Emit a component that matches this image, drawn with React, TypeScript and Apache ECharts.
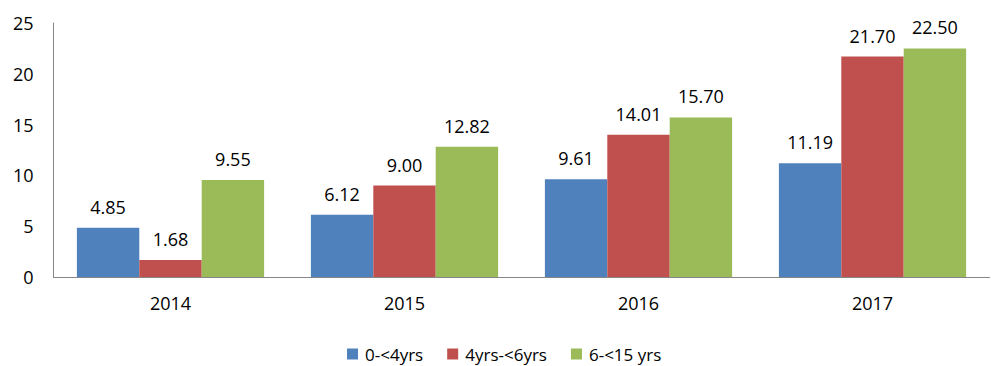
import React, { useEffect, useRef } from "react";
import * as echarts from "echarts";

const categories = ["2014", "2015", "2016", "2017"];
const seriesNames = ["0-<4yrs", "4yrs-<6yrs", "6-<15 yrs"];
const s0 = [4.85, 6.12, 9.61, 11.19];
const s1 = [1.68, 9.0, 14.01, 21.7];
const s2 = [9.55, 12.82, 15.7, 22.5];
const colors = ["#4F81BD", "#C0504D", "#9BBB59"];

export default function App() {
  const ref = useRef<HTMLDivElement>(null);
  useEffect(() => {
    if (!ref.current) return;
    const chart = echarts.init(ref.current, null, { renderer: "svg" });
    const font = "Open Sans";
    const data = [s0, s1, s2];
    chart.setOption({
      animation: false,
      textStyle: { fontFamily: font },
      legend: {
        top: 332,
        left: 334,
        itemWidth: 11,
        itemHeight: 11,
        itemGap: 24,
        icon: "rect",
        textStyle: { fontSize: 17, lineHeight: 18, color: "#000", fontFamily: font, padding: [0, 0, 0, 2] },
        data: seriesNames,
      },
      grid: { left: 45.5, right: 10.5, top: 15, bottom: 89, containLabel: false },
      xAxis: {
        type: "category",
        data: categories,
        axisLine: { lineStyle: { color: "#868686" } },
        axisTick: { show: false },
        axisLabel: { fontSize: 18, color: "#000", margin: 17, fontFamily: font },
      },
      yAxis: {
        type: "value",
        min: 0,
        max: 25,
        interval: 5,
        splitLine: { show: false },
        axisLine: { show: true, lineStyle: { color: "#868686" } },
        axisTick: { show: false },
        axisLabel: { fontSize: 18, color: "#000", margin: 20, fontFamily: font },
      },
      series: data.map((d, i) => ({
        name: seriesNames[i],
        type: "bar",
        data: d,
        barGap: "0%",
        barCategoryGap: "20%",
        itemStyle: { color: colors[i] },
        label: {
          show: true,
          position: "top",
          distance: 12,
          fontSize: 18,
          color: "#000",
          fontFamily: font,
          formatter: (p: any) => Number(p.value).toFixed(2),
        },
      })),
    });
    return () => chart.dispose();
  }, []);
  return <div ref={ref} style={{ width: 992, height: 358 }} />;
}
